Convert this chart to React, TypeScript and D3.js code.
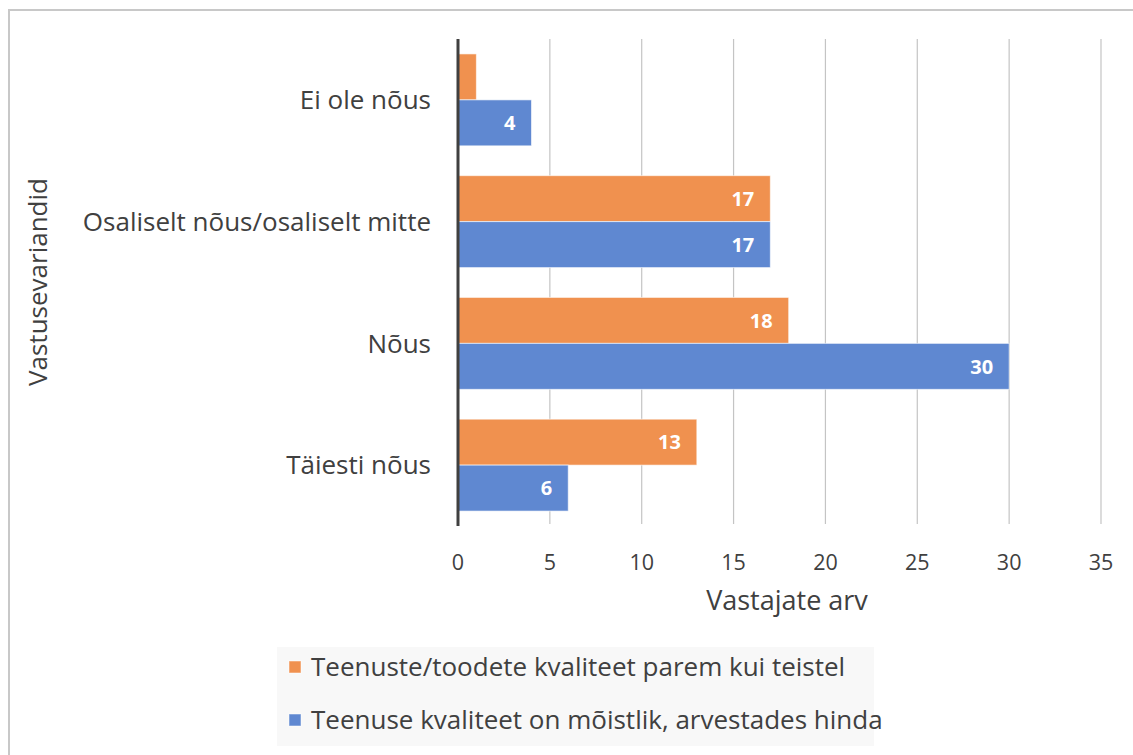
import React from "react";
import * as d3 from "d3";

const categories = ["Ei ole nõus", "Osaliselt nõus/osaliselt mitte", "Nõus", "Täiesti nõus"];
const seriesNames = [
  "Teenuste/toodete kvaliteet parem kui teistel",
  "Teenuse kvaliteet on mõistlik, arvestades hinda",
];
const seriesA = [1, 17, 18, 13];
const seriesB = [4, 17, 30, 6];
const xTicks = [0, 5, 10, 15, 20, 25, 30, 35];
const colors = ["#F0914F", "#5F88D1"];

const W = 1133;
const H = 755;
const FONT = "'Open Sans', 'Noto Sans', sans-serif";

export default function App() {
  const left = 458;
  const right = 1101;
  const top = 39;
  const bottom = 526;
  const x = d3.scaleLinear().domain([0, 35]).range([left, right]);
  const y = d3.scaleBand().domain(categories).range([top, bottom]).paddingInner(0.245).paddingOuter(0.1225);
  const sub = d3.scaleBand().domain(["a", "b"]).range([0, y.bandwidth()]);
  const series = [seriesA, seriesB];

  return (
    <svg width={W} height={H} style={{ position: "absolute", left: 0, top: 0 }}>
      <rect x={0} y={0} width={W} height={H} fill="#fff" />
      <rect x={9} y={10} width={W + 10} height={H + 10} fill="#fff" stroke="#c8c8c8" strokeWidth={2} />
      {xTicks.slice(1).map((t) => (
        <line key={t} x1={x(t)} x2={x(t)} y1={top} y2={bottom - 2} stroke="#c4c4c4" strokeWidth={1.2} />
      ))}
      {categories.map((c, i) =>
        series.map((s, j) => {
          const yy = (y(c) ?? 0) + (sub(j === 0 ? "a" : "b") ?? 0);
          const h = sub.bandwidth();
          const v = s[i];
          return (
            <g key={c + j}>
              <rect x={x(0)} y={yy} width={x(v) - x(0)} height={h} fill={colors[j]} stroke="#ffffff" strokeOpacity={0.6} strokeWidth={1} />
              {v > 1 && (
                <text x={x(v) - 16} y={yy + h / 2} dy="0.36em" textAnchor="end" fill="#fff" fontWeight="bold" fontSize={20} fontFamily={FONT}>
                  {v}
                </text>
              )}
            </g>
          );
        })
      )}
      <line x1={x(0)} x2={x(0)} y1={top} y2={bottom} stroke="#404040" strokeWidth={3} />
      {categories.map((c) => (
        <text key={c} x={431} y={(y(c) ?? 0) + y.bandwidth() / 2} dy="0.36em" textAnchor="end" fill="#404040" fontSize={26} fontFamily={FONT}>
          {c}
        </text>
      ))}
      {xTicks.map((t) => (
        <text key={t} x={x(t)} y={562} dy="0.36em" textAnchor="middle" fill="#404040" fontSize={21.5} fontFamily={FONT}>
          {t}
        </text>
      ))}
      <text x={787} y={600} dy="0.36em" textAnchor="middle" fill="#404040" fontSize={27} fontFamily={FONT}>
        Vastajate arv
      </text>
      <text transform={`translate(38,282) rotate(-90)`} dy="0.36em" textAnchor="middle" fill="#404040" fontSize={26} fontFamily={FONT}>
        Vastusevariandid
      </text>
      <rect x={277} y={647} width={597} height={99} fill="#f8f8f8" />
      {seriesNames.map((n, j) => (
        <g key={n}>
          <rect x={289} y={661 + j * 53} width={12} height={12} fill={colors[j]} stroke="#ffffff" strokeOpacity={0.5} />
          <text x={311} y={667 + j * 53} dy="0.36em" fill="#404040" fontSize={26} fontFamily={FONT}>
            {n}
          </text>
        </g>
      ))}
    </svg>
  );
}
